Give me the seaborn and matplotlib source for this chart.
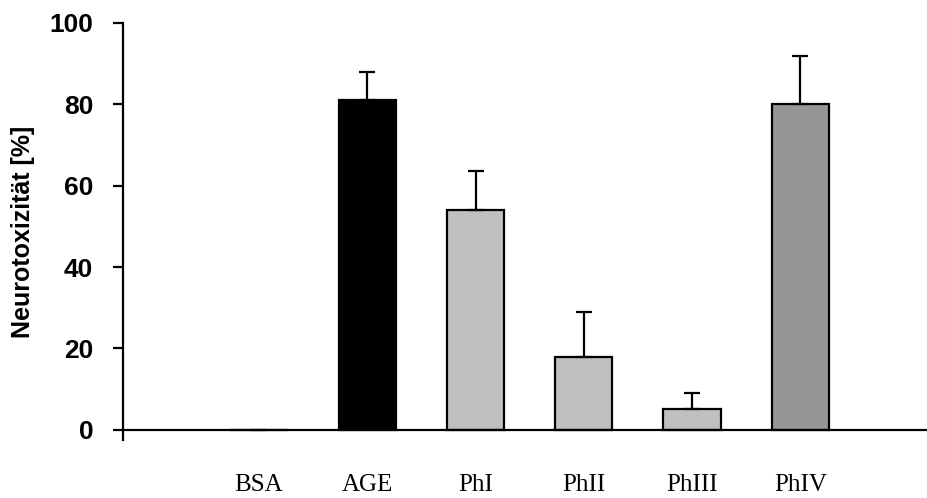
import numpy as np
import pandas as pd
import matplotlib
matplotlib.use("Agg")
import matplotlib.pyplot as plt
import seaborn as sns

# Neurotoxicity per treatment (mean and upper SD)
categories = ["BSA", "AGE", "PhI", "PhII", "PhIII", "PhIV"]
values = [0, 81, 54, 18, 5, 80]
errors_up = [np.nan, 7, 9.7, 11, 4, 12]
bar_colors = ["#FFFFFF", "#000000", "#C0C0C0", "#C0C0C0", "#C0C0C0", "#969696"]
yticks = [0, 20, 40, 60, 80, 100]

sns.set_theme(style="white")
plt.rcParams["font.family"] = ["Liberation Sans", "DejaVu Sans"]
for key in ["text.color", "axes.labelcolor", "xtick.color", "ytick.color", "axes.edgecolor"]:
    plt.rcParams[key] = "black"

df = pd.DataFrame({"group": categories, "value": values})

fig = plt.figure(figsize=(9.27, 4.98), dpi=100)
ax = fig.add_axes([123 / 927, 1 - 440 / 498, (927 - 123) / 927, (440 - 23) / 498])

sns.barplot(data=df, x="group", y="value", hue="group", palette=bar_colors,
            order=categories, hue_order=categories, legend=False,
            edgecolor="black", linewidth=1.6, width=0.53, errorbar=None,
            saturation=1, ax=ax)

pos = np.arange(len(categories))
err = np.array(errors_up, dtype=float)
ax.errorbar(pos, values, yerr=[np.zeros_like(err), err], fmt="none",
            ecolor="black", elinewidth=1.6, capsize=5.5, capthick=1.6, zorder=3)

ax.set_xlim(-1.256, 6.17)
ax.set_ylim(-2.5, 100)

# spines first: moving a spine rebuilds its ticks
for side in ["top", "right"]:
    ax.spines[side].set_visible(False)
ax.spines["left"].set_linewidth(1.6)
ax.spines["left"].set_color("black")
ax.spines["bottom"].set_linewidth(1.6)
ax.spines["bottom"].set_color("black")
ax.spines["bottom"].set_position(("data", 0))

ax.tick_params(axis="y", direction="out", length=7.5, width=1.6, color="black",
               pad=14, left=True)
ax.tick_params(axis="x", length=0, pad=32)

ax.set_yticks(yticks)
ax.set_yticklabels([str(t) for t in yticks], fontsize=19, fontweight="bold",
                   family=["Liberation Sans", "DejaVu Sans"], color="black")
ax.set_xticks(pos)
ax.set_xticklabels(categories, fontsize=18, family=["Liberation Serif", "DejaVu Serif"],
                   color="black")

ax.set_ylabel("Neurotoxizität [%]", fontsize=18, fontweight="bold", labelpad=10,
              color="black")
ax.set_xlabel("")

fig.savefig("out.png", dpi=100)
